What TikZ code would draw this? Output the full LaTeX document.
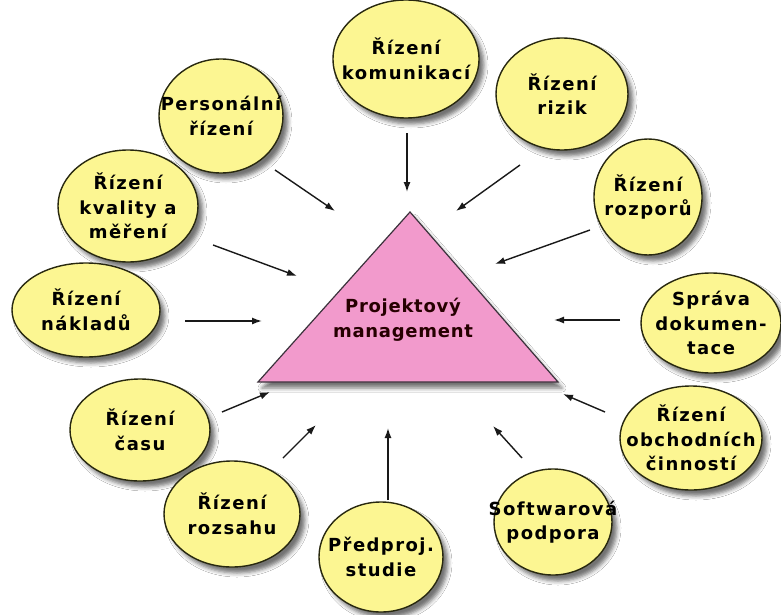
\documentclass[tikz,border=0pt]{standalone}
\usepackage{fontspec}
\setmainfont{DejaVu Sans}
\newfontfamily\bubblefont[LetterSpace=8]{DejaVu Sans}
\newfontfamily\trifont[LetterSpace=4]{DejaVu Sans}
\usetikzlibrary{shapes.geometric,arrows.meta,shadows.blur}

\definecolor{bubblefill}{RGB}{252,246,146}
\definecolor{bubbleline}{RGB}{40,40,15}
\definecolor{trifill}{RGB}{242,154,204}
\definecolor{triline}{RGB}{60,50,60}
\definecolor{arrowcol}{RGB}{25,25,25}

\tikzset{
  bubble/.style={ellipse, draw=bubbleline, line width=1.4pt, fill=bubblefill,
    inner sep=0pt,
    blur shadow={shadow xshift=5pt, shadow yshift=-6pt, shadow opacity=55,
      shadow blur radius=4pt}},
  btext/.style={align=center, inner sep=0pt,
    font=\bubblefont\bfseries\fontsize{18}{24.5}\selectfont},
  ttext/.style={align=center, inner sep=0pt,
    font=\trifont\bfseries\fontsize{18}{25}\selectfont, text=black!85!red},
  arr/.style={-{Latex[length=10pt,width=7pt]}, line width=1.4pt, draw=arrowcol},
}

\begin{document}
\begin{tikzpicture}[x=1pt,y=-1pt]
\useasboundingbox[fill=white] (0,0) rectangle (781,615);

% central triangle
\path[draw=triline, line width=1.2pt, fill=trifill,
  blur shadow={shadow xshift=4pt, shadow yshift=-6pt, shadow opacity=55,
    shadow blur radius=4pt}]
  (410,212) -- (258,382) -- (558,382) -- cycle;
\node[ttext] (pm) at (403,320) {Projektový\\management};

% surrounding bubbles
\node[bubble, minimum width=146pt, minimum height=118pt] (kom) at (406,59) {};
\node[btext] at (kom) {Řízení\\komunikací};

\node[bubble, minimum width=124pt, minimum height=114pt] (per) at (221,116) {};
\node[btext] at (per) {Personální\\řízení};

\node[bubble, minimum width=132pt, minimum height=112pt] (riz) at (562,94) {};
\node[btext] at (riz) {Řízení\\rizik};

\node[bubble, minimum width=108pt, minimum height=116pt] (roz) at (648,197) {};
\node[btext] at (roz) {Řízení\\rozporů};

\node[bubble, minimum width=140pt, minimum height=112pt] (kva) at (128,206) {};
\node[btext] at (kva) {Řízení\\kvality a\\měření};

\node[bubble, minimum width=148pt, minimum height=94pt] (nak) at (86,310) {};
\node[btext] at (nak) {Řízení\\nákladů};

\node[bubble, minimum width=140pt, minimum height=100pt] (dok) at (711,323) {};
\node[btext] at (dok) {Správa\\dokumen-\\tace};

\node[bubble, minimum width=140pt, minimum height=102pt] (cas) at (140,430) {};
\node[btext] at (cas) {Řízení\\času};

\node[bubble, minimum width=142pt, minimum height=104pt] (obc) at (691,438) {};
\node[btext] at (obc) {Řízení\\obchodních\\činností};

\node[bubble, minimum width=136pt, minimum height=106pt] (rzs) at (232,514) {};
\node[btext] at (rzs) {Řízení\\rozsahu};

\node[bubble, minimum width=124pt, minimum height=110pt] (pre) at (381,557) {};
\node[btext] at (pre) {Předproj.\\studie};

\node[bubble, minimum width=118pt, minimum height=106pt] (sw) at (553,522) {};
\node[btext] at (sw) {Softwarová\\podpora};

% arrow end points
\coordinate (kom-s) at (407,133); \coordinate (kom-e) at (407,192);
\coordinate (riz-s) at (520,165); \coordinate (riz-e) at (456,211);
\coordinate (per-s) at (275,170); \coordinate (per-e) at (335,211);
\coordinate (roz-s) at (590,230); \coordinate (roz-e) at (495,264);
\coordinate (kva-s) at (213,245); \coordinate (kva-e) at (297,276);
\coordinate (nak-s) at (185,321); \coordinate (nak-e) at (262,321);
\coordinate (dok-s) at (620,320); \coordinate (dok-e) at (554,320);
\coordinate (cas-s) at (222,412); \coordinate (cas-e) at (270,392);
\coordinate (obc-s) at (605,412); \coordinate (obc-e) at (563,394);
\coordinate (rzs-s) at (283,458); \coordinate (rzs-e) at (316,425);
\coordinate (pre-s) at (388,500); \coordinate (pre-e) at (388,428);
\coordinate (sw-s)  at (522,458); \coordinate (sw-e)  at (493,426);

\foreach \n in {kom,riz,per,roz,kva,nak,dok,cas,obc,rzs,pre,sw}
  \draw[arr] (\n-s) -- (\n-e);
\end{tikzpicture}
\end{document}
